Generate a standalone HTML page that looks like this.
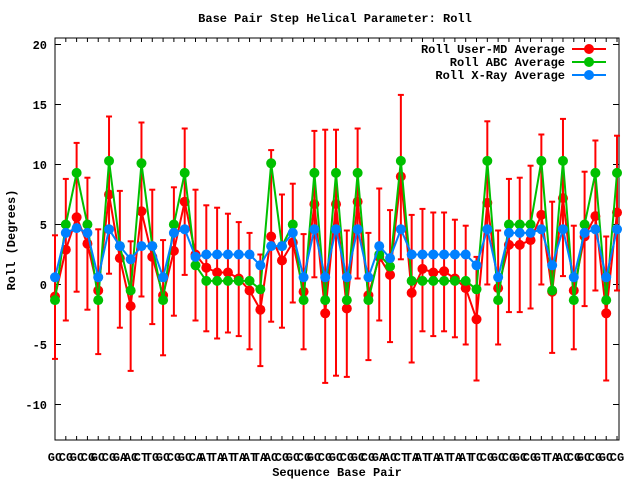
<!DOCTYPE html>
<html><head><meta charset="utf-8"><style>
html,body{margin:0;padding:0;background:#fff;}
svg{display:block;font-family:"Liberation Mono",monospace;font-weight:bold;}
</style></head><body>
<svg id="s" width="640" height="480" viewBox="0 0 640 480" xmlns="http://www.w3.org/2000/svg">
<rect width="640" height="480" fill="#fff"/>
<text x="335" y="22" font-size="12" text-anchor="middle">Base Pair Step Helical Parameter: Roll</text>
<text x="337" y="476" font-size="12" text-anchor="middle">Sequence Base Pair</text>
<text transform="translate(15,240) rotate(-90)" font-size="12" text-anchor="middle">Roll (Degrees)</text>
<g font-size="12" text-anchor="end">
<text x="47" y="49">20</text><text x="47" y="109">15</text><text x="47" y="169">10</text>
<text x="47" y="229">5</text><text x="47" y="289">0</text><text x="47" y="349">-5</text><text x="47" y="409">-10</text>
</g>
<g font-size="12" text-anchor="middle">
<text x="55" y="461">GC</text><text x="66" y="461">CG</text><text x="77" y="461">GC</text><text x="88" y="461">CG</text><text x="98" y="461">GC</text><text x="109" y="461">CG</text><text x="120" y="461">GA</text><text x="131" y="461">AC</text><text x="141" y="461">CT</text><text x="152" y="461">TG</text><text x="163" y="461">GC</text><text x="174" y="461">CG</text><text x="185" y="461">GC</text><text x="196" y="461">CA</text><text x="206" y="461">AT</text><text x="217" y="461">TA</text><text x="228" y="461">AT</text><text x="239" y="461">TA</text><text x="250" y="461">AT</text><text x="260" y="461">TA</text><text x="271" y="461">AC</text><text x="282" y="461">CG</text><text x="293" y="461">GC</text><text x="304" y="461">CG</text><text x="314" y="461">GC</text><text x="325" y="461">CG</text><text x="336" y="461">GC</text><text x="347" y="461">CG</text><text x="358" y="461">GC</text><text x="368" y="461">CG</text><text x="379" y="461">GA</text><text x="390" y="461">AC</text><text x="401" y="461">CT</text><text x="412" y="461">TA</text><text x="422" y="461">AT</text><text x="433" y="461">TA</text><text x="444" y="461">AT</text><text x="455" y="461">TA</text><text x="466" y="461">AT</text><text x="476" y="461">TC</text><text x="487" y="461">CG</text><text x="498" y="461">GC</text><text x="509" y="461">CG</text><text x="520" y="461">GC</text><text x="530" y="461">CG</text><text x="541" y="461">GT</text><text x="552" y="461">TA</text><text x="563" y="461">AC</text><text x="574" y="461">CG</text><text x="584" y="461">GC</text><text x="595" y="461">CG</text><text x="606" y="461">GC</text><text x="617" y="461">CG</text>
</g>
<g font-size="12" text-anchor="end">
<text x="565" y="53">Roll User-MD Average</text>
<text x="565" y="66">Roll ABC Average</text>
<text x="565" y="79">Roll X-Ray Average</text>
</g>
<g id="g"></g>
</svg>
<script>
var R=[-1,2.9,5.6,3.4,-0.5,7.5,2.2,-1.8,6.1,2.3,-0.9,2.8,6.9,2.5,1.4,1,1,0.5,-0.5,-2.1,4,2,3.5,-0.6,6.7,-2.4,6.7,-2,6.9,-0.9,2.3,0.8,9,-0.7,1.3,1,1.1,0.5,-0.3,-2.9,6.8,-0.3,3.3,3.3,3.7,5.8,-0.6,7.2,-0.5,4,5.7,-2.4,6];
var LO=[-6.2,-3,-0.6,-2.1,-5.8,0.9,-3.6,-7.2,-1,-3.3,-5.9,-2.6,0.8,-3,-3.9,-4.5,-4,-4.3,-5.4,-6.8,-3.1,-3.6,-1.5,-5.4,0.6,-8.2,-7.6,-7.7,0.5,-6.3,-3,-4.8,2.1,-6.5,-3.9,-4.3,-3.9,-4.4,-5,-8,0,-5,-2.3,-2.3,-2,0,-5.7,0.7,-5.4,-1.8,-0.5,-8,-0.5];
var HI=[4.1,8.8,11.8,8.9,4.6,14,7.8,3.6,13.5,7.9,3.7,8.1,13,7.9,6.6,6.4,5.9,5.2,4.3,2.5,11.2,7.5,8.4,4.2,12.8,12.9,12.9,4.5,13,4.3,8,6.2,15.8,5.8,6.3,6,6,5.4,4.9,2.3,13.6,4.5,8.8,8.9,9.9,12.5,6.9,13.8,4.9,9.4,12,4,12.4];
var G=[-1.3,5,9.3,5,-1.3,10.3,3.2,-0.5,10.1,3.2,-1.3,5,9.3,1.6,0.3,0.3,0.3,0.3,0.3,-0.4,10.1,3.2,5,-1.3,9.3,-1.3,9.3,-1.3,9.3,-1.3,2.5,1.5,10.3,0.3,0.3,0.3,0.3,0.3,0.3,-0.4,10.3,-1.3,5,5,5,10.3,-0.5,10.3,-1.3,5,9.3,-1.3,9.3];
var B=[0.6,4.3,4.7,4.3,0.6,4.6,3.2,2.1,3.2,3.2,0.6,4.3,4.6,2.3,2.5,2.5,2.5,2.5,2.5,1.6,3.2,3.2,4.3,0.6,4.6,0.6,4.6,0.6,4.6,0.6,3.2,2.2,4.6,2.5,2.5,2.5,2.5,2.5,2.5,1.6,4.6,0.6,4.3,4.3,4.3,4.6,1.6,4.6,0.6,4.3,4.6,0.6,4.6];
function X(i){return 55+i*10.808;}function Y(v){return 284.5-12*v;}
var h='';
h+='<rect x="55" y="38" width="564" height="402" fill="none" stroke="#000" stroke-width="1"/>';
for(var v=-10;v<=20;v+=5){var y=Y(v);h+='<line x1="55" y1="'+y+'" x2="61" y2="'+y+'" stroke="#000"/><line x1="613" y1="'+y+'" x2="619" y2="'+y+'" stroke="#000"/>';}
for(var i=0;i<53;i++){var x=X(i);h+='<line x1="'+x+'" y1="440" x2="'+x+'" y2="436" stroke="#000"/><line x1="'+x+'" y1="38" x2="'+x+'" y2="42" stroke="#000"/>';}
function ser(A,c){var p=A.map(function(v,i){return X(i)+','+Y(v)}).join(' ');var s='<polyline points="'+p+'" fill="none" stroke="'+c+'" stroke-width="2"/>';A.forEach(function(v,i){s+='<circle cx="'+X(i)+'" cy="'+Y(v)+'" r="5" fill="'+c+'"/>';});return s;}
var eb='';for(var i=0;i<53;i++){var x=X(i),a=Y(LO[i]),b=Y(HI[i]);eb+='<line x1="'+x+'" y1="'+a+'" x2="'+x+'" y2="'+b+'" stroke="#f00" stroke-width="2"/><line x1="'+(x-3)+'" y1="'+a+'" x2="'+(x+3)+'" y2="'+a+'" stroke="#f00" stroke-width="2"/><line x1="'+(x-3)+'" y1="'+b+'" x2="'+(x+3)+'" y2="'+b+'" stroke="#f00" stroke-width="2"/>';}
h+=eb+ser(R,'#ff0000')+ser(G,'#00c000')+ser(B,'#0080ff');
[['#ff0000',49],['#00c000',62],['#0080ff',75]].forEach(function(q){h+='<line x1="572" y1="'+q[1]+'" x2="606" y2="'+q[1]+'" stroke="'+q[0]+'" stroke-width="2"/><circle cx="589" cy="'+q[1]+'" r="5" fill="'+q[0]+'"/>';});
document.getElementById('g').innerHTML=h;
</script>
</body></html>
